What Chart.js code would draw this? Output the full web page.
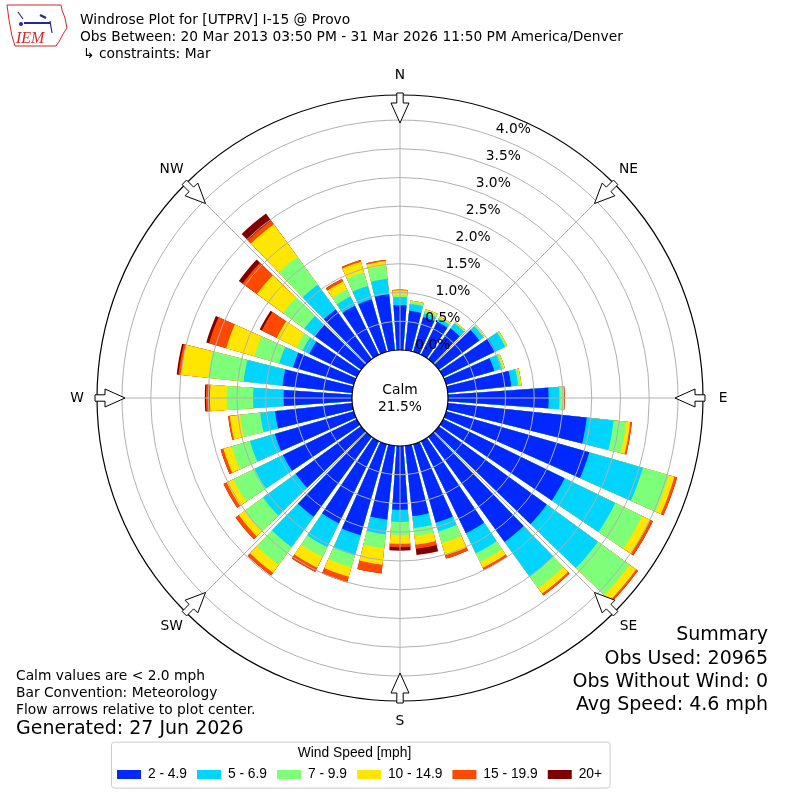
<!DOCTYPE html>
<html lang="en">
<head>
<meta charset="UTF-8">
<title>Windrose Plot for [UTPRV] I-15 @ Provo</title>
<script src="https://cdn.jsdelivr.net/npm/chart.js"></script>
<style>
    body { margin: 0; background: #fff; }
    .wrap { width: 800px; height: 800px; position: relative; }
</style>
</head>
<body>
<div class="wrap"><canvas id="rose"></canvas></div>
<script>
// direction the wind blows from, degrees
const directions = [0, 10, 20, 30, 40, 50, 60, 70, 80, 90, 100, 110, 120, 130, 140, 150, 160, 170,
                    180, 190, 200, 210, 220, 230, 240, 250, 260, 270, 280, 290, 300, 310, 320, 330, 340, 350];
const speedBins = ['2 - 4.9', '5 - 6.9', '7 - 9.9', '10 - 14.9', '15 - 19.9', '20+'];

// % of all observations, per direction, for each speed bin (mph)
const pct2to5   = [0.78, 0.69, 0.63, 0.64, 0.66, 0.87, 1.01, 0.87, 1.11, 1.75, 2.43, 2.59, 2.35, 2.32, 2.26, 1.78, 1.42, 1.23,
                   1.11, 1.29, 1.65, 1.59, 1.72, 1.41, 1.43, 1.43, 1.35, 1.19, 1.22, 1.10, 0.92, 1.00, 1.07, 0.95, 0.95, 0.98];
const pct5to7   = [0.14, 0.12, 0.07, 0.06, 0.11, 0.09, 0.19, 0.14, 0.12, 0.19, 0.47, 0.97, 0.98, 1.10, 0.74, 0.39, 0.16, 0.21,
                   0.21, 0.26, 0.36, 0.46, 0.65, 0.70, 0.55, 0.45, 0.26, 0.53, 0.68, 0.25, 0.13, 0.22, 0.53, 0.18, 0.24, 0.27];
const pct7to10  = [0.04, 0.04, 0.05, 0.02, 0.02, 0.01, 0.03, 0.03, 0.04, 0.06, 0.22, 0.47, 0.52, 0.68, 0.25, 0.17, 0.21, 0.14,
                   0.23, 0.24, 0.22, 0.19, 0.38, 0.40, 0.41, 0.33, 0.35, 0.46, 0.62, 0.45, 0.12, 0.46, 0.60, 0.14, 0.25, 0.23];
const pct10to15 = [0.08, 0.02, 0.02, 0.02, 0.01, 0.01, 0.01, 0.02, 0.02, 0.02, 0.07, 0.10, 0.16, 0.14, 0.12, 0.11, 0.22, 0.15,
                   0.15, 0.29, 0.17, 0.21, 0.17, 0.12, 0.13, 0.15, 0.18, 0.29, 0.48, 0.51, 0.38, 0.56, 0.70, 0.15, 0.19, 0.08];
const pct15to20 = [0.01, 0.00, 0.00, 0.00, 0.00, 0.00, 0.00, 0.00, 0.00, 0.01, 0.03, 0.05, 0.05, 0.04, 0.04, 0.04, 0.06, 0.07,
                   0.06, 0.15, 0.10, 0.08, 0.06, 0.07, 0.06, 0.05, 0.03, 0.07, 0.04, 0.31, 0.29, 0.31, 0.08, 0.05, 0.03, 0.02];
const pct20up   = [0.00, 0.00, 0.00, 0.00, 0.00, 0.00, 0.00, 0.00, 0.00, 0.00, 0.00, 0.00, 0.00, 0.00, 0.00, 0.00, 0.00, 0.11,
                   0.06, 0.00, 0.00, 0.00, 0.00, 0.00, 0.00, 0.00, 0.00, 0.02, 0.03, 0.05, 0.04, 0.08, 0.15, 0.00, 0.00, 0.00];

const ringTicks = [0, 0.5, 1.0, 1.5, 2.0, 2.5, 3.0, 3.5, 4.0];
const compass = ['N', 'NE', 'E', 'SE', 'S', 'SW', 'W', 'NW'];
const calmPct = 21.5;
const obsUsed = 20965;
const obsNoWind = 0;
const avgSpeed = 4.6;

const binColors = ['#0028ff', '#00d4ff', '#7dff7a', '#ffe600', '#ff4800', '#800000'];
const BAR_DEG = 8, GAP_DEG = 2;        // each 10 degree sector: bar + white gap
const R_MIN = -0.835, R_MAX = 4.435;   // negative min leaves the calm hole in the middle

Chart.defaults.font.family = '"DejaVu Sans", sans-serif';
Chart.defaults.color = '#000';

// stack the bins: polar area arcs all start at the center, so each dataset holds the running total
const bins = [pct2to5, pct5to7, pct7to10, pct10to15, pct15to20, pct20up];
const cumulative = [];
bins.forEach((b, i) => cumulative.push(b.map((v, d) => v + (i ? cumulative[i - 1][d] : 0))));

const sectorLabels = directions.flatMap(d => [d + '°', '']);
const datasets = cumulative.map((c, i) => ({
    label: speedBins[i],
    data: c.flatMap(v => [v, null]),
    backgroundColor: ctx => ctx.dataIndex % 2 ? 'rgba(0,0,0,0)' : binColors[i],
    borderWidth: 0,
    angle: ctx => ctx.dataIndex % 2 ? GAP_DEG : BAR_DEG
}));

const F10 = '13.8px "DejaVu Sans"';
const F14 = '19px "DejaVu Sans"';
const LEGEND_FONT = '"Liberation Sans", Arial, sans-serif';

function drawLogo(ctx) {
    ctx.save();
    ctx.strokeStyle = '#d02828';
    ctx.lineWidth = 1;
    ctx.beginPath();
    ctx.moveTo(7, 5); ctx.lineTo(61, 5); ctx.lineTo(62, 10); ctx.lineTo(65, 18);
    ctx.lineTo(67, 28); ctx.lineTo(63, 34); ctx.lineTo(60, 40); ctx.lineTo(56, 46);
    ctx.lineTo(15, 46); ctx.lineTo(12, 36); ctx.lineTo(9, 20); ctx.closePath();
    ctx.stroke();
    ctx.strokeStyle = '#1c2a9a';
    ctx.fillStyle = '#1c2a9a';
    ctx.lineWidth = 2;
    ctx.beginPath(); ctx.moveTo(24, 23); ctx.lineTo(50, 23); ctx.stroke();
    ctx.lineWidth = 1.2;
    ctx.beginPath(); ctx.moveTo(18, 12); ctx.lineTo(23, 19); ctx.stroke();
    ctx.lineWidth = 2.5;
    ctx.beginPath(); ctx.moveTo(40, 15); ctx.lineTo(46, 18); ctx.stroke();
    ctx.lineWidth = 1.2;
    ctx.beginPath(); ctx.moveTo(50, 21); ctx.lineTo(52, 33); ctx.stroke();
    ctx.beginPath(); ctx.arc(21, 24, 2, 0, 2 * Math.PI); ctx.fill();
    ctx.fillStyle = '#d02828';
    ctx.font = 'italic 16px "Liberation Serif"';
    ctx.textAlign = 'left';
    ctx.textBaseline = 'alphabetic';
    ctx.fillText('IEM', 16, 43);
    ctx.restore();
}

const roseDecor = {
    id: 'roseDecor',
    afterLayout(chart) {
        // legend sits left of center in the original
        chart.legend.left += 107;
        chart.legend.right += 107;
    },
    afterDatasetsDraw(chart) {
        const s = chart.scales.r, ctx = chart.ctx;
        const cx = s.xCenter, cy = s.yCenter, R = s.drawingArea;
        ctx.save();
        ctx.strokeStyle = '#b0b0b0';
        ctx.lineWidth = 1;
        for (let a = 0; a < 360; a += 45) {
            const t = a * Math.PI / 180;
            ctx.beginPath();
            ctx.moveTo(cx, cy);
            ctx.lineTo(cx + R * Math.sin(t), cy - R * Math.cos(t));
            ctx.stroke();
        }
        const r0 = s.getDistanceFromCenterForValue(0);
        ctx.beginPath();
        ctx.arc(cx, cy, r0, 0, 2 * Math.PI);
        ctx.fillStyle = '#fff';
        ctx.fill();
        ctx.strokeStyle = '#000';
        ctx.lineWidth = 1.2;
        ctx.stroke();
        ctx.restore();
    },
    afterDraw(chart) {
        const s = chart.scales.r, ctx = chart.ctx;
        const cx = s.xCenter, cy = s.yCenter, R = s.drawingArea;
        ctx.save();

        // outer ring
        ctx.strokeStyle = '#000';
        ctx.lineWidth = 1.2;
        ctx.beginPath();
        ctx.arc(cx, cy, R, 0, 2 * Math.PI);
        ctx.stroke();

        // flow arrows + compass labels
        ctx.font = F10;
        ctx.textAlign = 'center';
        ctx.textBaseline = 'middle';
        compass.forEach((name, i) => {
            const t = i * 45 * Math.PI / 180;
            const ux = Math.sin(t), uy = -Math.cos(t);
            const px = -uy, py = ux;
            const pt = (r, w) => [cx + ux * r + px * w, cy + uy * r + py * w];
            const shape = [[R + 2, -3.2], [R - 8, -3.2], [R - 8, -9], [R - 28, 0], [R - 8, 9], [R - 8, 3.2], [R + 2, 3.2]];
            ctx.beginPath();
            shape.forEach(([r, w], k) => {
                const [x, y] = pt(r, w);
                k ? ctx.lineTo(x, y) : ctx.moveTo(x, y);
            });
            ctx.closePath();
            ctx.fillStyle = '#fff';
            ctx.fill();
            ctx.lineWidth = 1;
            ctx.strokeStyle = '#000';
            ctx.stroke();
            const [lx, ly] = pt(R + 20, 0);
            ctx.fillStyle = '#000';
            ctx.fillText(name, lx, ly);
        });

        // radial tick labels
        const la = 20.5 * Math.PI / 180;
        ringTicks.forEach(v => {
            const r = s.getDistanceFromCenterForValue(v);
            ctx.fillText(v.toFixed(1) + '%', cx + r * Math.sin(la) + 16, cy - r * Math.cos(la) - 8);
        });

        // calm
        ctx.fillText('Calm', cx, cy - 8);
        ctx.fillText(calmPct.toFixed(1) + '%', cx, cy + 9);

        // header
        drawLogo(ctx);
        ctx.textAlign = 'left';
        ctx.textBaseline = 'middle';
        ctx.fillStyle = '#000';
        ctx.font = F10;
        ctx.fillText('Windrose Plot for [UTPRV] I-15 @ Provo', 80, 20.5);
        ctx.fillText('Obs Between: 20 Mar 2013 03:50 PM - 31 Mar 2026 11:50 PM America/Denver', 80, 37.5);
        ctx.fillText('\u21b3 constraints: Mar', 83, 54);

        // notes bottom left
        ctx.fillText('Calm values are < 2.0 mph', 16, 676);
        ctx.fillText('Bar Convention: Meteorology', 16, 693);
        ctx.fillText('Flow arrows relative to plot center.', 16, 710);
        ctx.font = F14;
        ctx.fillText('Generated: 27 Jun 2026', 16, 729);

        // summary bottom right
        ctx.textAlign = 'right';
        ctx.fillText('Summary', 768, 635);
        ctx.fillText('Obs Used: ' + obsUsed, 768, 659);
        ctx.fillText('Obs Without Wind: ' + obsNoWind, 768, 682);
        ctx.fillText('Avg Speed: ' + avgSpeed.toFixed(1) + ' mph', 768, 705);

        // legend frame
        const hb = chart.legend.legendHitBoxes;
        if (hb && hb.length) {
            const last = hb[hb.length - 1];
            const x0 = hb[0].left - 5.5, x1 = last.left + last.width + 8;
            const y0 = hb[0].top - 25.4, y1 = hb[0].top + hb[0].height + 6.8;
            ctx.strokeStyle = '#cccccc';
            ctx.lineWidth = 1;
            ctx.beginPath();
            ctx.roundRect(x0, y0, x1 - x0, y1 - y0, 3);
            ctx.stroke();
        }
        ctx.restore();
    }
};

new Chart(document.getElementById('rose'), {
    type: 'polarArea',
    data: { labels: sectorLabels, datasets: datasets },
    options: {
        responsive: true,
        maintainAspectRatio: false,
        animation: false,
        layout: { padding: { top: 95, bottom: 8.7, left: 0, right: 0 } },
        scales: {
            r: {
                min: R_MIN,
                max: R_MAX,
                startAngle: -BAR_DEG / 2,
                afterBuildTicks: scale => { scale.ticks = ringTicks.map(v => ({ value: v })); },
                ticks: { display: false },
                grid: {
                    z: 1,
                    circular: true,
                    lineWidth: 1,
                    color: ctx => ctx.tick && ctx.tick.value === 0 ? 'rgba(0,0,0,0)' : '#b0b0b0'
                },
                angleLines: { display: false },
                pointLabels: { display: false }
            }
        },
        plugins: {
            tooltip: { enabled: false },
            legend: {
                position: 'bottom',
                align: 'start',
                title: {
                    display: true,
                    text: 'Wind Speed [mph]',
                    font: { family: LEGEND_FONT, size: 13.8, lineHeight: 0.819 },
                    padding: { top: 45.1, bottom: 0 }
                },
                labels: {
                    boxWidth: 24,
                    boxHeight: 9,
                    padding: 10,
                    font: { family: LEGEND_FONT, size: 13.8 },
                    generateLabels: chart => chart.data.datasets.map((ds, i) => ({
                        text: ds.label,
                        fillStyle: binColors[i],
                        strokeStyle: binColors[i],
                        lineWidth: 0,
                        hidden: false,
                        datasetIndex: i
                    }))
                }
            }
        }
    },
    plugins: [roseDecor]
});
</script>
</body>
</html>
